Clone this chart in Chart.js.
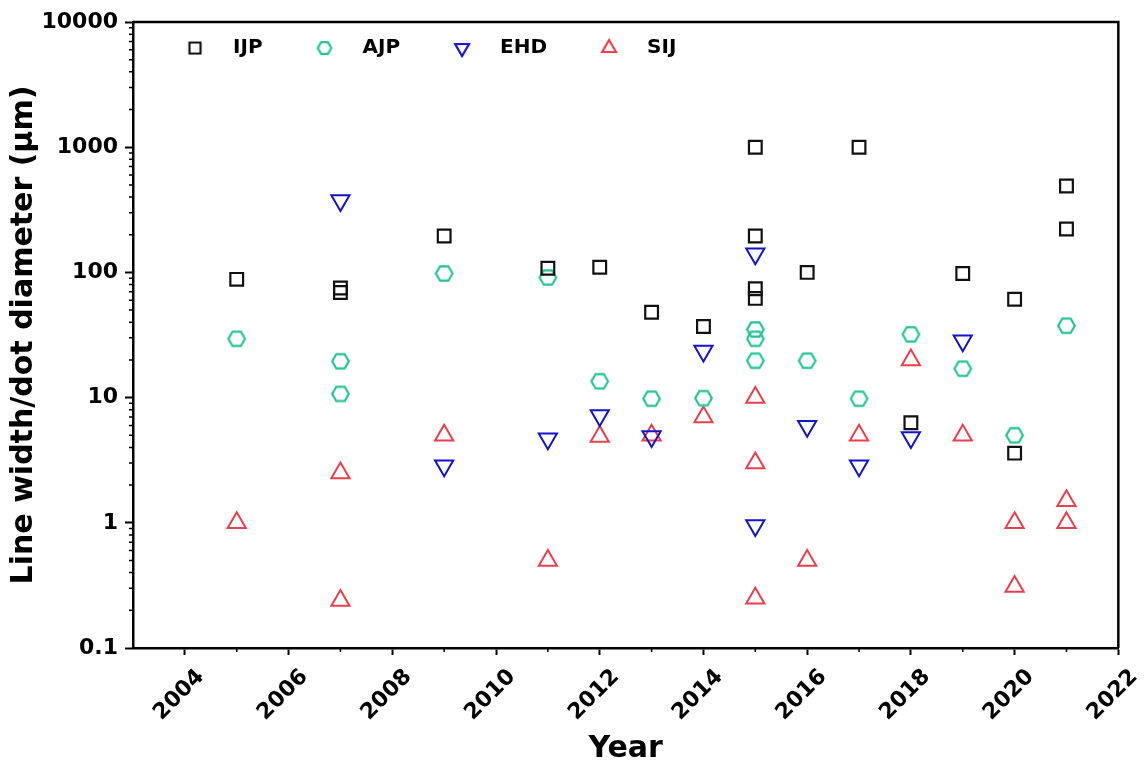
<!DOCTYPE html>
<html>
<head>
<meta charset="utf-8">
<script src="https://cdn.jsdelivr.net/npm/chart.js@4.4.0/dist/chart.umd.min.js"></script>
<style>
  html, body { margin: 0; padding: 0; background: #fff; }
  #wrap { width: 1146px; height: 769px; }
</style>
</head>
<body>
<div id="wrap"><canvas id="chart" width="1146" height="769"></canvas></div>
<script>
// data
var ijpYears  = [2005, 2007, 2007, 2009, 2011, 2012, 2013, 2014, 2015, 2015, 2015, 2015, 2016, 2017, 2018, 2019, 2020, 2020, 2021, 2021];
var ijpValues = [88, 75, 69, 195, 108, 110, 48, 37, 1000, 195, 74, 62, 100, 1000, 6.3, 98, 61, 3.6, 490, 222];

var ajpYears  = [2005, 2007, 2007, 2009, 2011, 2012, 2013, 2014, 2015, 2015, 2015, 2016, 2017, 2018, 2019, 2020, 2021];
var ajpValues = [29.5, 19.5, 10.7, 98, 91, 13.5, 9.8, 9.9, 35, 29.5, 19.7, 19.7, 9.8, 32, 17, 5, 37.5];

var ehdYears  = [2007, 2009, 2011, 2012, 2013, 2014, 2015, 2015, 2016, 2017, 2018, 2019];
var ehdValues = [375, 2.85, 4.7, 7.2, 4.9, 23.6, 141, 0.95, 5.9, 2.85, 4.8, 28.5];

var sijYears  = [2005, 2007, 2007, 2009, 2011, 2012, 2013, 2014, 2015, 2015, 2015, 2016, 2017, 2018, 2019, 2020, 2020, 2021, 2021];
var sijValues = [1, 2.5, 0.24, 5, 0.5, 4.9, 5, 7, 10, 3, 0.25, 0.5, 5, 20, 5, 1, 0.31, 1.5, 1];

var xTicks = [2004, 2006, 2008, 2010, 2012, 2014, 2016, 2018, 2020, 2022];
var xMinorTicks = [2005, 2007, 2009, 2011, 2013, 2015, 2017, 2019, 2021];
var yTicks = [0.1, 1, 10, 100, 1000, 10000];
var yMinorFactors = [2, 3, 4, 5, 6, 7, 8, 9];

var seriesNames = ['IJP', 'AJP', 'EHD', 'SIJ'];
var colors = ['#111111', '#22c497', '#1414cc', '#e8404c'];

function toPoints(xs, ys) {
    return xs.map(function(x, i) { return {x: x, y: ys[i]}; });
}

// small canvases used as marker images
function markerCanvas(shape, color, size, lw) {
    var pad = Math.ceil(lw) + 2;
    var dim = Math.ceil(size * 2 + pad * 2);
    var c = document.createElement('canvas');
    c.width = dim; c.height = dim;
    var g = c.getContext('2d');
    var cx = dim / 2, cy = dim / 2;
    g.strokeStyle = color;
    g.lineWidth = lw;
    g.lineJoin = 'miter';
    g.beginPath();
    if (shape === 'square') {
        g.rect(cx - size, cy - size, size * 2, size * 2);
    } else if (shape === 'hex') {
        for (var k = 0; k < 6; k++) {
            var a = Math.PI / 3 * k;
            var px = cx + size * Math.cos(a), py = cy + size * Math.sin(a);
            if (k === 0) g.moveTo(px, py); else g.lineTo(px, py);
        }
        g.closePath();
    } else {
        var s = shape === 'down' ? -1 : 1;
        g.moveTo(cx, cy - s * size);
        g.lineTo(cx + size * 0.866, cy + s * size * 0.5);
        g.lineTo(cx - size * 0.866, cy + s * size * 0.5);
        g.closePath();
    }
    g.stroke();
    return c;
}

var hexPoint = markerCanvas('hex', colors[1], 8.3, 2.2);
var legendMarkers = [
    markerCanvas('square', colors[0], 5.5, 2.2),
    markerCanvas('hex', colors[1], 6.8, 2.2),
    markerCanvas('down', colors[2], 8, 2.2),
    markerCanvas('up', colors[3], 8, 2.2)
];

var frame = {
    id: 'frame',
    afterLayout: function(chart) {
        // legend sits inside the plot, upper left, in one row
        var lg = chart.legend;
        lg.left = chart.chartArea.left;
        lg.right = chart.chartArea.right;
        lg.top = chart.chartArea.top - 18;
        lg.height = 80;
        lg.bottom = lg.top + lg.height;
        lg.width = lg.right - lg.left;
    },
    afterDraw: function(chart) {
        var ctx = chart.ctx, a = chart.chartArea;
        var xs = chart.scales.x, ys = chart.scales.y;
        ctx.save();
        ctx.strokeStyle = '#000';
        ctx.lineWidth = 2.5;
        ctx.beginPath();
        ctx.moveTo(a.left, a.top);
        ctx.lineTo(a.right, a.top);
        ctx.lineTo(a.right, a.bottom);
        ctx.stroke();
        ctx.lineWidth = 1.5;
        ctx.beginPath();
        xMinorTicks.forEach(function(v) {
            var px = xs.getPixelForValue(v);
            ctx.moveTo(px, a.bottom);
            ctx.lineTo(px, a.bottom + 4);
        });
        yTicks.slice(0, -1).forEach(function(d) {
            yMinorFactors.forEach(function(f) {
                var py = ys.getPixelForValue(d * f);
                ctx.moveTo(a.left, py);
                ctx.lineTo(a.left - 4, py);
            });
        });
        ctx.stroke();
        ctx.restore();
    }
};

Chart.defaults.font.family = "'DejaVu Sans', sans-serif";
Chart.defaults.color = '#000';

new Chart(document.getElementById('chart'), {
    type: 'scatter',
    data: {
        datasets: [
            {
                label: seriesNames[0],
                data: toPoints(ijpYears, ijpValues),
                pointStyle: 'rect',
                pointRadius: 9,
                borderWidth: 2.2,
                borderColor: colors[0],
                backgroundColor: 'rgba(0,0,0,0)'
            },
            {
                label: seriesNames[1],
                data: toPoints(ajpYears, ajpValues),
                pointStyle: hexPoint,
                pointRadius: 9,
                borderColor: colors[1],
                backgroundColor: 'rgba(0,0,0,0)'
            },
            {
                label: seriesNames[2],
                data: toPoints(ehdYears, ehdValues),
                pointStyle: 'triangle',
                rotation: 180,
                pointRadius: 10.5,
                borderWidth: 2,
                borderColor: colors[2],
                backgroundColor: 'rgba(0,0,0,0)'
            },
            {
                label: seriesNames[3],
                data: toPoints(sijYears, sijValues),
                pointStyle: 'triangle',
                pointRadius: 10.5,
                borderWidth: 2,
                borderColor: colors[3],
                backgroundColor: 'rgba(0,0,0,0)'
            }
        ]
    },
    options: {
        responsive: false,
        animation: false,
        devicePixelRatio: 1,
        layout: { padding: { top: 22, right: 26, left: 0, bottom: 0 } },
        plugins: {
            tooltip: { enabled: false },
            legend: {
                position: 'top',
                align: 'start',
                maxHeight: 0.001,
                labels: {
                    usePointStyle: true,
                    pointStyleWidth: 56,
                    padding: 34,
                    color: '#000',
                    font: { size: 20, weight: 'bold' },
                    generateLabels: function(chart) {
                        var items = Chart.defaults.plugins.legend.labels.generateLabels(chart);
                        items.forEach(function(it, i) {
                            it.pointStyle = legendMarkers[i];
                            it.rotation = 0;
                        });
                        return items;
                    }
                }
            }
        },
        scales: {
            x: {
                type: 'linear',
                min: 2003,
                max: 2022,
                afterBuildTicks: function(s) { s.ticks = xTicks.map(function(v) { return {value: v}; }); },
                afterFit: function(s) { s.height = 121; },
                ticks: {
                    minRotation: 45,
                    maxRotation: 45,
                    padding: 9,
                    labelOffset: 16,
                    color: '#000',
                    font: { size: 22, weight: 'bold' },
                    callback: function(v) { return String(v); }
                },
                grid: { display: true, drawOnChartArea: false, drawTicks: true, tickLength: 7, tickWidth: 2, tickColor: '#000' },
                border: { display: true, color: '#000', width: 2.5 },
                title: {
                    display: true,
                    text: 'Year',
                    color: '#000',
                    font: { size: 30, weight: 'bold' },
                    padding: { top: 0, bottom: 2 }
                }
            },
            y: {
                type: 'logarithmic',
                min: 0.1,
                max: 10000,
                afterBuildTicks: function(s) { s.ticks = yTicks.map(function(v) { return {value: v}; }); },
                afterFit: function(s) { s.width = 133; },
                ticks: {
                    padding: 7,
                    color: '#000',
                    font: { size: 22, weight: 'bold' },
                    callback: function(v) { return String(v); }
                },
                grid: { display: true, drawOnChartArea: false, drawTicks: true, tickLength: 8, tickWidth: 2, tickColor: '#000' },
                border: { display: true, color: '#000', width: 2.5 },
                title: {
                    display: true,
                    text: 'Line width/dot diameter (μm)',
                    color: '#000',
                    font: { size: 30, weight: 'bold' },
                    padding: { top: 6, bottom: 0 }
                }
            }
        }
    },
    plugins: [frame]
});
</script>
</body>
</html>
